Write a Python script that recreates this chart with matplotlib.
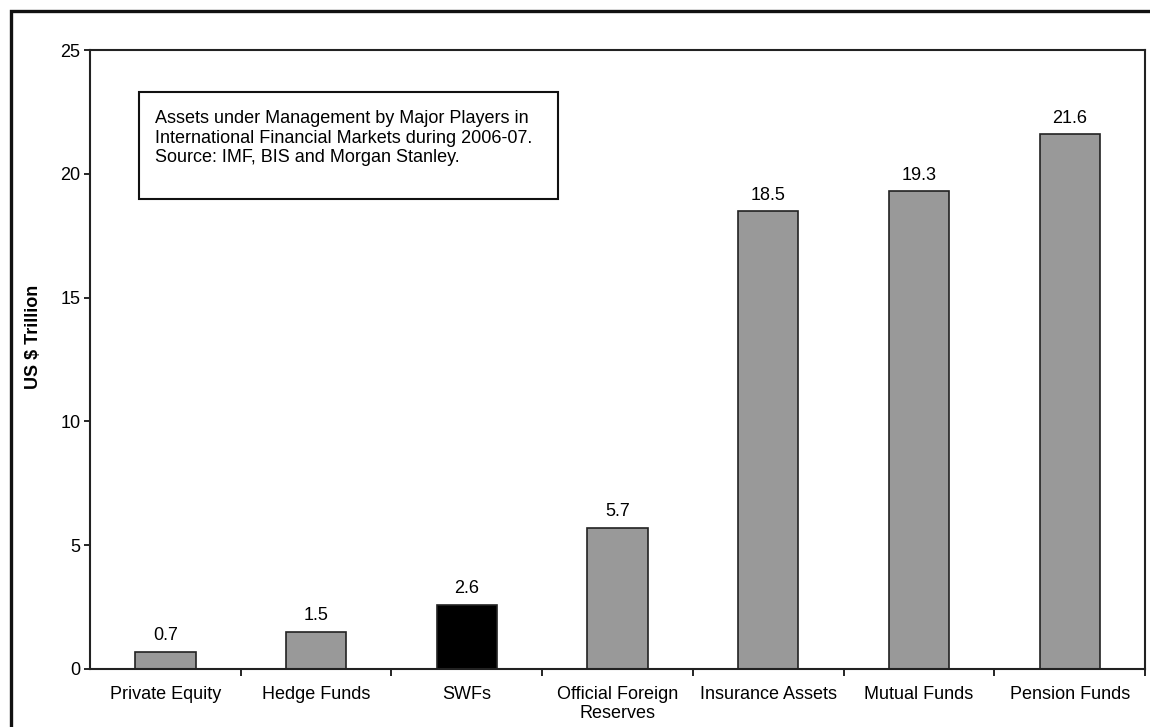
import numpy as np
import matplotlib
matplotlib.use('Agg')
import matplotlib.pyplot as plt
from matplotlib.patches import Rectangle

plt.rcParams['font.family'] = ['Liberation Sans', 'DejaVu Sans']

# data
categories = ['Private Equity', 'Hedge Funds', 'SWFs', 'Official Foreign\nReserves',
              'Insurance Assets', 'Mutual Funds', 'Pension Funds']
values = [0.7, 1.5, 2.6, 5.7, 18.5, 19.3, 21.6]
bar_colors = ['#999999', '#999999', '#000000', '#999999', '#999999', '#999999', '#999999']
yticks = [0, 5, 10, 15, 20, 25]
note = ('Assets under Management by Major Players in\n'
        'International Financial Markets during 2006-07.\n'
        'Source: IMF, BIS and Morgan Stanley.')

fig = plt.figure(figsize=(11.5, 7.27), dpi=100)
ax = fig.add_axes([0.0783, 0.0798, 0.9174, 0.8514])

x = np.arange(len(categories))
bars = ax.bar(x, values, width=0.4, color=bar_colors, edgecolor='#222222', linewidth=1.2)
for xi, v in zip(x, values):
    ax.text(xi, v + 0.3, str(v), ha='center', va='bottom', fontsize=13)

ax.set_xlim(-0.5, len(categories) - 0.5)
ax.set_ylim(0, 25)
ax.set_yticks(yticks)
ax.tick_params(axis='y', labelsize=13, length=4, width=1.2, direction='out', pad=3)

# category labels centred, tick marks between categories
ax.set_xticks(x)
ax.set_xticklabels(categories, fontsize=13, linespacing=1.15)
ax.tick_params(axis='x', length=0, pad=12)
ax.set_xticks(np.arange(0.5, len(categories), 1.0), minor=True)
ax.tick_params(axis='x', which='minor', length=5, width=1.2, direction='out')

for s in ax.spines.values():
    s.set_linewidth(1.5)
    s.set_color('#222222')

ax.set_ylabel('US $ Trillion', fontsize=13, fontweight='bold')
ax.yaxis.set_label_coords(-0.0455, 0.537)

# note box
ax.add_patch(Rectangle((0.0464, 0.759), 0.3972, 0.173, transform=ax.transAxes,
                       facecolor='white', edgecolor='#111111', linewidth=1.5, zorder=3))
ax.text(0.0616, 0.903, note, transform=ax.transAxes, fontsize=13, va='top', ha='left',
        linespacing=1.2, zorder=4)

# outer frame
fig.patches.append(Rectangle((11 / 1150, -0.05), 1.1, 1 - 11 / 727 + 0.05, transform=fig.transFigure,
                             fill=False, edgecolor='#111111', linewidth=2.4))

fig.savefig('out.png', dpi=100)
